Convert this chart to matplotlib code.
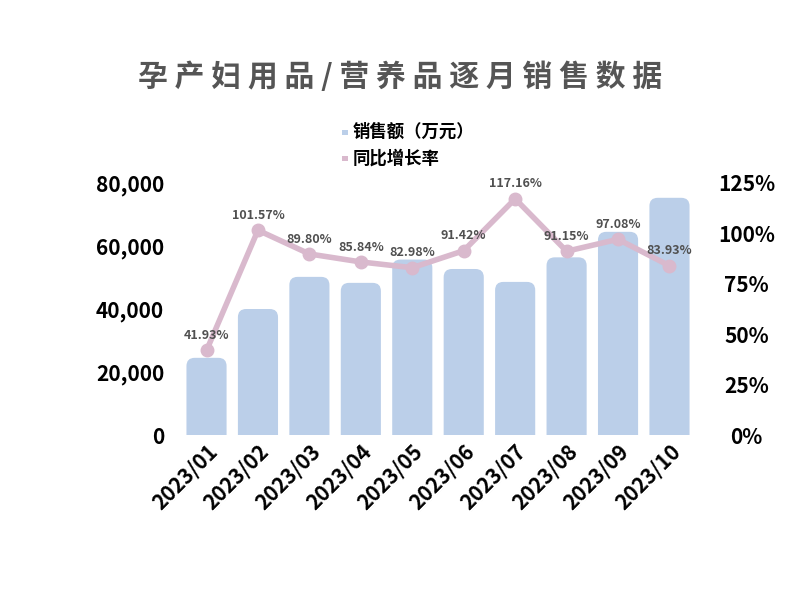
import matplotlib
matplotlib.use("Agg")
import matplotlib.pyplot as plt
from matplotlib.patches import FancyBboxPatch
from matplotlib.ticker import FuncFormatter

plt.rcParams['font.family'] = ['Noto Sans CJK SC', 'DejaVu Sans']

months = ["2023/01", "2023/02", "2023/03", "2023/04", "2023/05",
          "2023/06", "2023/07", "2023/08", "2023/09", "2023/10"]
sales = [24500, 40000, 50200, 48300, 55700, 52700, 48600, 56400, 64500, 75300]
growth = [41.93, 101.57, 89.80, 85.84, 82.98, 91.42, 117.16, 91.15, 97.08, 83.93]

bar_color = "#BBCFE9"
line_color = "#D9B9CD"

fig = plt.figure(figsize=(8, 6), dpi=100)
ax = fig.add_axes([0.226, 0.275, 0.643, 0.42])
x = list(range(len(months)))
bars = ax.bar(x, sales, width=0.78, color=bar_color)
ax.set_xlim(-0.5, len(months) - 0.5)
ax.set_ylim(0, 80000)

# rounded tops
fig.canvas.draw()
px_per_x = ax.bbox.width / 10.0
px_per_y = ax.bbox.height / 80000.0
aspect = px_per_x / px_per_y
for b in bars:
    x0, w, h = b.get_x(), b.get_width(), b.get_height()
    b.set_visible(False)
    r = 0.16
    p = FancyBboxPatch((x0, -5000), w, h + 5000,
                       boxstyle=f"round,pad=0,rounding_size={r}",
                       mutation_aspect=aspect, facecolor=bar_color,
                       edgecolor="none", clip_on=True)
    ax.add_patch(p)

for s in ax.spines.values():
    s.set_visible(False)
ax.set_yticks([0, 20000, 40000, 60000, 80000])
ax.yaxis.set_major_formatter(FuncFormatter(lambda v, p: f"{int(v):,}"))
ax.tick_params(axis='y', length=0, pad=12, labelsize=15)
for t in ax.get_yticklabels():
    t.set_fontweight('bold')
ax.set_xticks(x)
ax.set_xticklabels(months, rotation=45, ha='right', rotation_mode='anchor',
                   fontsize=15, fontweight='bold')
ax.tick_params(axis='x', length=0, pad=4)

ax2 = ax.twinx()
ax2.set_ylim(0, 125)
ax2.set_xlim(-0.5, len(months) - 0.5)
ax2.plot(x, growth, color=line_color, lw=4, marker='o', markersize=9,
         solid_joinstyle='round', zorder=3)
for xi, g in zip(x, growth):
    ax2.annotate(f"{g:.2f}%", (xi, g), xytext=(0, 6), textcoords='offset points',
                 ha='center', va='bottom', fontsize=9, fontweight='bold',
                 color='#505050')
for s in ax2.spines.values():
    s.set_visible(False)
ax2.set_yticks([0, 25, 50, 75, 100, 125])
ax2.yaxis.set_major_formatter(FuncFormatter(lambda v, p: f"{int(v)}%"))
ax2.tick_params(axis='y', length=0, pad=37, labelsize=15)
for t in ax2.get_yticklabels():
    t.set_fontweight('bold')
    t.set_horizontalalignment('center')

fig.text(0.5, 0.872, "孕 产 妇 用 品 / 营 养 品 逐 月 销 售 数 据",
         ha='center', va='center', fontsize=21.5, fontweight='bold', color='#555555')

# legend
fig.patches.append(plt.Rectangle((0.428, 0.775), 0.0065, 0.009, transform=fig.transFigure,
                                 facecolor=bar_color, edgecolor='none'))
fig.patches.append(plt.Rectangle((0.428, 0.731), 0.0065, 0.009, transform=fig.transFigure,
                                 facecolor=line_color, edgecolor='none'))
fig.text(0.441, 0.78, "销售额（万元）", ha='left', va='center', fontsize=12.5,
         fontweight='bold', color='black')
fig.text(0.441, 0.736, "同比增长率", ha='left', va='center', fontsize=12.5,
         fontweight='bold', color='black')

fig.savefig("out.png", dpi=100)
